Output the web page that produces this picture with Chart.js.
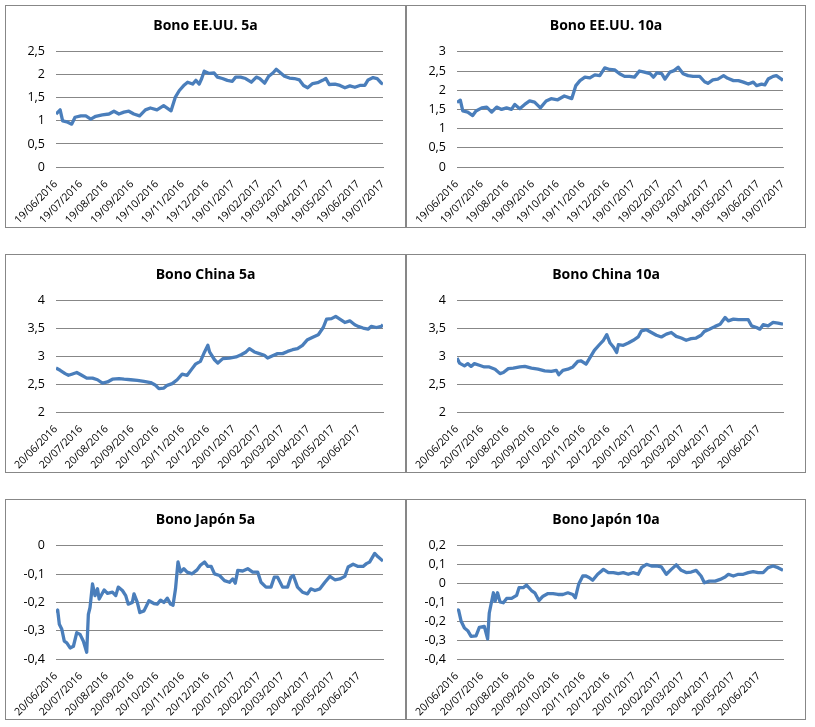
<!DOCTYPE html>
<html>
<head>
<meta charset="utf-8">
<script src="https://cdn.jsdelivr.net/npm/chart.js@4.4.1/dist/chart.umd.min.js"></script>
<style>
  body { margin: 0; background: #fff; width: 815px; height: 727px; position: relative; overflow: hidden; }
  .panel { position: absolute; border: 1px solid #878787; box-sizing: border-box; background: #fff; }
  .panel canvas { display: block; }
</style>
</head>
<body>
<div class="panel" style="left:5px;top:5px;width:401px;height:223px"><canvas id="c1" width="399" height="221"></canvas></div>
<div class="panel" style="left:406px;top:5px;width:400px;height:223px"><canvas id="c2" width="398" height="221"></canvas></div>
<div class="panel" style="left:5px;top:254px;width:401px;height:219px"><canvas id="c3" width="399" height="217"></canvas></div>
<div class="panel" style="left:406px;top:254px;width:400px;height:219px"><canvas id="c4" width="398" height="217"></canvas></div>
<div class="panel" style="left:5px;top:499px;width:401px;height:221px"><canvas id="c5" width="399" height="219"></canvas></div>
<div class="panel" style="left:406px;top:499px;width:400px;height:221px"><canvas id="c6" width="398" height="219"></canvas></div>
<script>
// tick labels (monthly)
const usTicks = ['19/06/2016', '19/07/2016', '19/08/2016', '19/09/2016', '19/10/2016', '19/11/2016', '19/12/2016',
  '19/01/2017', '19/02/2017', '19/03/2017', '19/04/2017', '19/05/2017', '19/06/2017', '19/07/2017'];
const asiaTicks = ['20/06/2016', '20/07/2016', '20/08/2016', '20/09/2016', '20/10/2016', '20/11/2016', '20/12/2016',
  '20/01/2017', '20/02/2017', '20/03/2017', '20/04/2017', '20/05/2017', '20/06/2017'];

// Bono EE.UU. 5a  (days since 19/06/2016)
const us5Days = [0, 5, 8, 13, 19, 23, 30, 36, 42, 48, 56, 64, 70, 76, 82, 88, 94, 101, 108, 114,
  122, 130, 139, 144, 149, 155, 159, 165, 169, 173, 176, 179, 185, 191, 195, 201, 207, 213, 217, 223,
  229, 236, 242, 246, 252, 257, 262, 266, 270, 276, 282, 288, 294, 299, 304, 310, 316, 322, 326, 330,
  337, 343, 349, 355, 361, 367, 373, 377, 383, 388, 393, 395];
const us5 = [1.15, 1.24, 1.0, 0.98, 0.93, 1.08, 1.11, 1.11, 1.04, 1.10, 1.13, 1.15, 1.21, 1.15, 1.19, 1.21, 1.15, 1.11, 1.24, 1.28,
  1.24, 1.33, 1.22, 1.51, 1.66, 1.78, 1.84, 1.80, 1.88, 1.80, 1.92, 2.08, 2.03, 2.04, 1.95, 1.92, 1.88, 1.86, 1.95, 1.95,
  1.92, 1.84, 1.95, 1.92, 1.82, 1.97, 2.04, 2.12, 2.06, 1.97, 1.93, 1.92, 1.89, 1.77, 1.72, 1.81, 1.83, 1.88, 1.92, 1.79,
  1.80, 1.77, 1.72, 1.76, 1.73, 1.77, 1.77, 1.89, 1.94, 1.92, 1.82, 1.80];

// Bono EE.UU. 10a
const us10Days = [0, 4, 7, 13, 19, 23, 30, 36, 42, 48, 54, 60, 66, 70, 76, 82, 88, 94, 101, 108,
  114, 122, 130, 139, 144, 149, 155, 161, 167, 173, 179, 185, 191, 197, 203, 209, 215, 221, 227, 234,
  238, 242, 248, 252, 258, 263, 268, 274, 280, 286, 294, 300, 304, 310, 316, 323, 328, 335, 341, 347,
  353, 359, 363, 369, 373, 377, 383, 387, 393, 395];
const us10 = [1.68, 1.74, 1.46, 1.43, 1.34, 1.46, 1.54, 1.56, 1.43, 1.56, 1.50, 1.54, 1.50, 1.63, 1.52, 1.63, 1.72, 1.69, 1.54, 1.72,
  1.78, 1.75, 1.85, 1.78, 2.12, 2.25, 2.34, 2.32, 2.40, 2.38, 2.58, 2.54, 2.53, 2.43, 2.36, 2.36, 2.34, 2.50, 2.47, 2.43,
  2.34, 2.45, 2.43, 2.29, 2.47, 2.51, 2.60, 2.43, 2.38, 2.36, 2.36, 2.22, 2.18, 2.27, 2.29, 2.38, 2.31, 2.25, 2.25, 2.21,
  2.16, 2.21, 2.12, 2.16, 2.14, 2.29, 2.36, 2.38, 2.29, 2.25];

// Bono China 5a  (days since 20/06/2016)
const cn5Days = [0, 5, 11, 15, 19, 25, 31, 37, 44, 50, 56, 62, 68, 76, 82, 90, 98, 106, 114, 120,
  124, 130, 134, 140, 146, 152, 158, 164, 168, 174, 179, 183, 185, 191, 195, 201, 209, 217, 223, 229,
  233, 239, 245, 251, 255, 261, 267, 273, 279, 285, 291, 297, 303, 310, 316, 322, 326, 332, 337, 342,
  348, 354, 360, 364, 370, 376, 380, 386, 392, 394];
const cn5 = [2.79, 2.75, 2.69, 2.66, 2.68, 2.71, 2.66, 2.61, 2.61, 2.58, 2.52, 2.54, 2.59, 2.60, 2.59, 2.58, 2.57, 2.55, 2.53, 2.48,
  2.42, 2.43, 2.48, 2.51, 2.58, 2.68, 2.66, 2.78, 2.86, 2.91, 3.08, 3.20, 3.08, 2.94, 2.88, 2.96, 2.97, 2.99, 3.03, 3.08,
  3.14, 3.08, 3.05, 3.02, 2.97, 3.01, 3.05, 3.05, 3.09, 3.12, 3.14, 3.20, 3.30, 3.35, 3.39, 3.52, 3.67, 3.68, 3.72, 3.67,
  3.61, 3.64, 3.57, 3.54, 3.51, 3.49, 3.54, 3.52, 3.54, 3.57];

// Bono China 10a
const cn10Days = [0, 3, 9, 13, 17, 21, 27, 33, 39, 46, 52, 56, 62, 68, 76, 82, 90, 98, 106, 114,
  120, 123, 128, 134, 140, 146, 150, 156, 160, 166, 172, 177, 181, 185, 189, 193, 195, 201, 207, 213,
  219, 223, 229, 235, 241, 247, 253, 259, 265, 271, 277, 283, 289, 295, 299, 305, 312, 318, 324, 328,
  334, 340, 346, 352, 356, 362, 366, 370, 376, 382, 388, 394];
const cn10 = [2.97, 2.88, 2.83, 2.87, 2.82, 2.87, 2.84, 2.81, 2.81, 2.77, 2.69, 2.71, 2.78, 2.79, 2.81, 2.82, 2.79, 2.77, 2.74, 2.73,
  2.75, 2.67, 2.75, 2.77, 2.81, 2.91, 2.92, 2.86, 2.96, 3.11, 3.21, 3.29, 3.39, 3.24, 3.17, 3.07, 3.21, 3.20, 3.24, 3.29,
  3.35, 3.46, 3.48, 3.43, 3.38, 3.35, 3.40, 3.43, 3.36, 3.33, 3.29, 3.32, 3.33, 3.38, 3.45, 3.49, 3.54, 3.58, 3.70, 3.64,
  3.67, 3.66, 3.66, 3.66, 3.55, 3.52, 3.49, 3.57, 3.55, 3.61, 3.60, 3.58];

// Bono Japón 5a
const jp5Days = [0, 2, 4, 7, 10, 13, 17, 21, 25, 29, 33, 37, 39, 41, 44, 47, 50, 52, 58, 62,
  68, 72, 75, 80, 84, 87, 92, 94, 98, 101, 106, 112, 118, 122, 126, 130, 134, 138, 141, 144,
  147, 150, 154, 158, 164, 170, 174, 179, 183, 187, 191, 197, 203, 209, 213, 216, 219, 225, 231, 237,
  243, 247, 253, 259, 263, 267, 273, 279, 283, 286, 291, 297, 303, 307, 312, 318, 324, 330, 336, 342,
  348, 352, 358, 364, 370, 374, 378, 384, 388, 394];
const jp5 = [-0.236, -0.227, -0.277, -0.295, -0.337, -0.343, -0.361, -0.355, -0.307, -0.313,
  -0.337, -0.376, -0.242, -0.218, -0.135, -0.176, -0.152, -0.188, -0.156, -0.168,
  -0.164, -0.176, -0.146, -0.158, -0.176, -0.206, -0.200, -0.170, -0.200, -0.236,
  -0.230, -0.194, -0.204, -0.206, -0.192, -0.200, -0.185, -0.206, -0.210, -0.152,
  -0.057, -0.093, -0.081, -0.093, -0.099, -0.085, -0.069, -0.057, -0.073, -0.073,
  -0.099, -0.105, -0.123, -0.129, -0.117, -0.132, -0.087, -0.089, -0.081, -0.093,
  -0.093, -0.129, -0.146, -0.146, -0.111, -0.111, -0.146, -0.146, -0.111, -0.105,
  -0.146, -0.164, -0.170, -0.152, -0.158, -0.152, -0.129, -0.108, -0.120, -0.117,
  -0.108, -0.075, -0.065, -0.073, -0.073, -0.063, -0.057, -0.027, -0.039, -0.054];

// Bono Japón 10a
const jp10Days = [0, 2, 5, 9, 13, 17, 23, 27, 33, 37, 39, 44, 46, 49, 52, 56, 60, 66, 72, 75,
  80, 84, 90, 94, 99, 104, 110, 116, 122, 128, 134, 140, 143, 147, 152, 156, 160, 164, 170, 177,
  183, 189, 195, 201, 207, 213, 219, 223, 229, 235, 241, 247, 253, 259, 265, 271, 277, 283, 289, 295,
  299, 305, 312, 318, 324, 328, 334, 340, 346, 352, 358, 364, 370, 376, 382, 388, 394];
const jp10 = [-0.138, -0.142, -0.200, -0.236, -0.250, -0.280, -0.277, -0.232, -0.227, -0.293,
  -0.156, -0.049, -0.094, -0.049, -0.097, -0.102, -0.079, -0.079, -0.063, -0.022,
  -0.022, -0.008, -0.037, -0.049, -0.090, -0.067, -0.053, -0.054, -0.058, -0.058,
  -0.049, -0.058, -0.076, -0.004, 0.040, 0.040, 0.031, 0.017, 0.049, 0.075,
  0.058, 0.058, 0.052, 0.058, 0.049, 0.058, 0.049, 0.084, 0.102, 0.093,
  0.093, 0.088, 0.049, 0.075, 0.099, 0.070, 0.058, 0.061, 0.070, 0.040,
  0.004, 0.013, 0.013, 0.022, 0.034, 0.049, 0.040, 0.049, 0.049, 0.058,
  0.063, 0.058, 0.058, 0.084, 0.093, 0.084, 0.070];

const FONT = 'Open Sans, sans-serif';
const GRID = '#878787';

function toUTC(s) {
  const p = s.split('/');
  return Date.UTC(+p[2], +p[1] - 1, +p[0]);
}

function fmt(v) {
  return String(Math.round(v * 10) / 10).replace('.', ',');
}

function makeChart(id, title, days, values, ticks, xMax, yMin, yMax, step) {
  const start = toUTC(ticks[0]);
  const tickDays = ticks.map(t => Math.round((toUTC(t) - start) / 86400000));
  new Chart(document.getElementById(id), {
    type: 'line',
    data: {
      datasets: [{
        data: days.map((d, i) => ({ x: d, y: values[i] })),
        borderColor: '#4a7ebb',
        borderWidth: 3.3,
        pointRadius: 0,
        tension: 0,
        borderJoinStyle: 'round'
      }]
    },
    options: {
      responsive: false,
      animation: false,
      plugins: {
        legend: { display: false },
        tooltip: { enabled: false },
        title: {
          display: true, text: title, color: '#000',
          font: { family: FONT, size: 14, weight: 'bold' },
          padding: { top: 12, bottom: 17 }
        }
      },
      scales: {
        x: {
          type: 'linear', min: 0, max: xMax,
          grid: { display: false },
          border: { display: true, color: GRID },
          ticks: {
            autoSkip: false, minRotation: 45, maxRotation: 45, padding: 3,
            color: '#000', font: { family: FONT, size: 10.5 },
            callback: (v, i) => ticks[i]
          },
          afterBuildTicks: s => { s.ticks = tickDays.map(v => ({ value: v })); },
          afterFit: s => { s.height = 60; s.paddingLeft = 0; s.paddingRight = 22; }
        },
        y: {
          min: yMin, max: yMax,
          grid: { color: GRID, drawTicks: false },
          border: { display: false },
          ticks: {
            stepSize: step, padding: 11,
            color: '#000', font: { family: FONT, size: 12.5 },
            callback: v => fmt(v)
          },
          afterFit: s => { s.width = 50; }
        }
      }
    }
  });
}

makeChart('c1', 'Bono EE.UU. 5a', us5Days, us5, usTicks, 395, 0, 2.5, 0.5);
makeChart('c2', 'Bono EE.UU. 10a', us10Days, us10, usTicks, 395, 0, 3, 0.5);
makeChart('c3', 'Bono China 5a', cn5Days, cn5, asiaTicks, 394, 2, 4, 0.5);
makeChart('c4', 'Bono China 10a', cn10Days, cn10, asiaTicks, 394, 2, 4, 0.5);
makeChart('c5', 'Bono Japón 5a', jp5Days, jp5, asiaTicks, 394, -0.4, 0, 0.1);
makeChart('c6', 'Bono Japón 10a', jp10Days, jp10, asiaTicks, 394, -0.4, 0.2, 0.1);
</script>
</body>
</html>
